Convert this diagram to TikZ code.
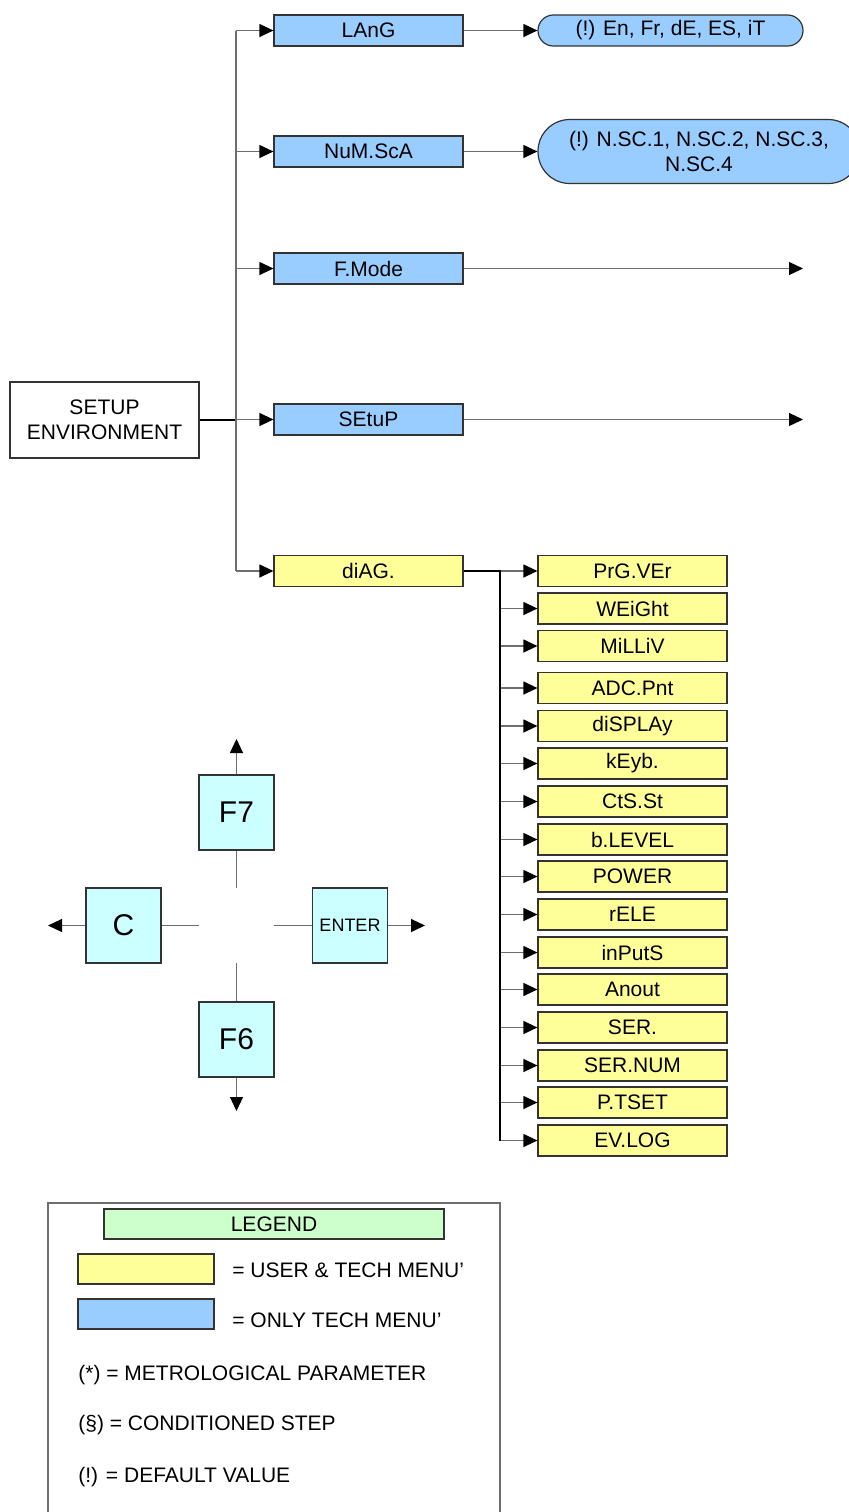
\documentclass[tikz,border=0pt]{standalone}
\usepackage{fontspec}
\setmainfont{Liberation Sans}
\usetikzlibrary{positioning, arrows.meta}
\definecolor{techblue}{RGB}{153,204,255}
\definecolor{useryellow}{RGB}{255,255,153}
\definecolor{keycyan}{RGB}{204,255,255}
\definecolor{legendgreen}{RGB}{204,255,204}
\definecolor{wire}{RGB}{110,110,110}
\tikzset{
  menubox/.style={
    rectangle, draw=black!80, line width=0.6pt, minimum width=94.5pt,
    minimum height=15.5pt, inner sep=0pt, font=\fontsize{10.5}{12.6}\selectfont
  },
  techmenu/.style={menubox, fill=techblue},
  usermenu/.style={menubox, fill=useryellow},
  valuebox/.style={menubox, fill=techblue, rounded corners=7.7pt, minimum width=132.5pt, align=center},
  keybox/.style={
    rectangle, draw=black!80, line width=0.6pt, fill=keycyan,
    minimum size=37.5pt, inner sep=0pt, font=\fontsize{15}{18}\selectfont
  },
  wireline/.style={draw=wire, line width=0.6pt},
  trunk/.style={draw=black, line width=0.9pt},
  flow/.style={wireline, -{Triangle[length=7pt,width=6.5pt,color=black]}},
  legendtext/.style={anchor=base west, inner sep=0pt, font=\fontsize{10.5}{12.6}\selectfont},
}

\begin{document}
\begin{tikzpicture}[x=0.5pt, y=-0.5pt]
  \useasboundingbox (0,0) rectangle (848,1512);

  % main menu
  \node[menubox, minimum height=38pt, align=center] (envir) at (104.5,420) {SETUP\\ENVIRONMENT};
  \node[techmenu] (lang) at (368.5,30.5) {LAnG};
  \node[techmenu] (numsca) at (368.5,151.5) {NuM.ScA};
  \node[techmenu] (fmode) at (368.5,268.5) {F.Mode};
  \node[techmenu] (setup) at (368.5,419.5) {SEtuP};
  \node[usermenu] (diag) at (368.5,571) {diAG.};

  \node[valuebox] (langval) at (670.5,30.5) {(!) En, Fr, dE, ES, iT};
  \node[valuebox, minimum width=161pt, minimum height=32pt, rounded corners=15.9pt] (numval)
    at (699,151.5) {(!) N.SC.1, N.SC.2, N.SC.3,\\N.SC.4};

  \coordinate (split) at (236,420);
  \coordinate (fmodeend) at (803,268.5);
  \coordinate (setupend) at (803,419.5);

  \draw[trunk] (envir.east) -- (split);
  \draw[wireline] (split |- lang.west) -- (split |- diag.west);
  \foreach \m in {lang,numsca,fmode,setup,diag}
    \draw[flow] (split |- \m.west) -- (\m.west);
  \draw[flow] (lang) -- (langval);
  \draw[flow] (numsca) -- (numval);
  \draw[flow] (fmode) -- (fmodeend);
  \draw[flow] (setup) -- (setupend);

  % diagnostics
  \coordinate (diagsplit) at (500,571);
  \foreach \name/\txt/\y in {prgver/PrG.VEr/571, weight/WEiGht/608.5, milliv/MiLLiV/646,
      adcpnt/ADC.Pnt/688, display/diSPLAy/726, keyb/kEyb./763.5, ctsst/CtS.St/801.5,
      blevel/b.LEVEL/839.5, power/POWER/876.5, rele/rELE/914.5, inputs/inPutS/952.5,
      anout/Anout/989.5, ser/SER./1027.5, sernum/SER.NUM/1065.5, ptset/P.TSET/1102.5,
      evlog/EV.LOG/1140.5}
  {
    \node[usermenu] (\name) at (632.5,\y) {\txt};
    \draw[flow] (diagsplit |- \name.west) -- (\name.west);
  }
  \draw[trunk] (diag.east) -- (diagsplit) -- (diagsplit |- evlog.west);

  % keys
  \node[keybox] (f7) at (236.5,812.5) {F7};
  \node[keybox] (f6) at (236.5,1039.5) {F6};
  \node[keybox] (clear) at (123.5,925.5) {C};
  \node[keybox, font=\fontsize{9}{11}\selectfont] (enter) at (350,925.5) {ENTER};

  \coordinate (padN) at (236.5,888);
  \coordinate (padS) at (236.5,963);
  \coordinate (padW) at (199,925.5);
  \coordinate (padE) at (274,925.5);
  \coordinate (upend) at (236.5,739);
  \coordinate (downend) at (236.5,1111);
  \coordinate (leftend) at (48,925.5);
  \coordinate (rightend) at (425,925.5);

  \draw[wireline] (f7) -- (padN);
  \draw[wireline] (f6) -- (padS);
  \draw[wireline] (clear) -- (padW);
  \draw[wireline] (enter) -- (padE);
  \draw[flow] (f7) -- (upend);
  \draw[flow] (f6) -- (downend);
  \draw[flow] (clear) -- (leftend);
  \draw[flow] (enter) -- (rightend);

  % legend
  \draw[wireline] (48,1530) |- (500,1203) -- (500,1530);
  \node[menubox, fill=legendgreen, minimum width=170pt, minimum height=15pt] (legend) at (274,1224) {LEGEND};
  \node[menubox, fill=useryellow, minimum width=68pt, minimum height=15pt] (userkey) at (146,1269) {};
  \node[menubox, fill=techblue, minimum width=68pt, minimum height=15pt] (techkey) at (146,1314) {};
  \node[legendtext] (usertxt) at (232,1277) {= USER \& TECH MENU’};
  \node[legendtext] (techtxt) at (232,1327) {= ONLY TECH MENU’};
  \node[legendtext] (metrotxt) at (78,1380) {(*) = METROLOGICAL PARAMETER};
  \node[legendtext] (condtxt) at (78,1430) {(§) = CONDITIONED STEP};
  \node[legendtext] (deftxt) at (78,1482) {(!) = DEFAULT VALUE};
\end{tikzpicture}
\end{document}
